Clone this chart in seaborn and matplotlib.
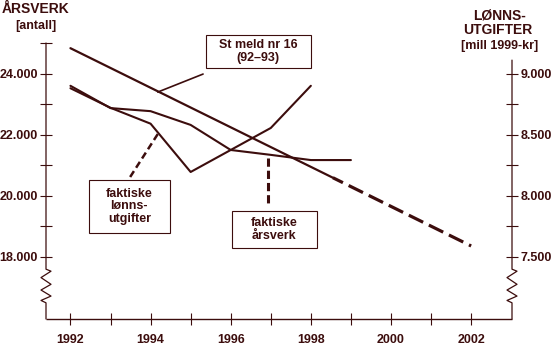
import numpy as np
import pandas as pd
import matplotlib
matplotlib.use("Agg")
import matplotlib.pyplot as plt
import matplotlib.transforms as mtransforms
from matplotlib.patches import Rectangle
import seaborn as sns

# ---------------- data ----------------
years_arsverk = [1992, 1993, 1994, 1995, 1996, 1997, 1998, 1999]
arsverk = [23600, 22870, 22770, 22320, 21500, 21340, 21170, 21170]

years_lonn = [1992, 1993, 1994, 1995, 1996, 1997, 1998]
lonn = [8880, 8720, 8590, 8195, 8375, 8555, 8900]

stmeld_years = [1992, 2002]
stmeld = [24830, 18360]
stmeld_solid_until = 1998.55

x_ticks = [1992, 1994, 1996, 1998, 2000, 2002]
x_minor = [1993, 1995, 1997, 1999, 2001]
left_ticks = [18000, 20000, 22000, 24000]
left_labels = ["18.000", "20.000", "22.000", "24.000"]
left_minor = [19000, 21000, 23000, 25000]
right_ticks = [7500, 8000, 8500, 9000]
right_labels = ["7.500", "8.000", "8.500", "9.000"]
right_minor = [7750, 8250, 8750]

C = "#3c0d0d"

sns.set_theme(style="white")
plt.rcParams["font.family"] = ["Liberation Sans", "DejaVu Sans"]
plt.rcParams["font.weight"] = "bold"

W, H = 551, 347
fig = plt.figure(figsize=(W / 100, H / 100), dpi=100)
fig.patch.set_facecolor("white")
ax = fig.add_axes([46 / W, 28 / H, 466 / W, 276 / H])
ax.set_facecolor("white")

ylim_left = (15970, 25000)
xlim = (1991.39, 2003.02)
ax.set_xlim(*xlim)
ax.set_ylim(*ylim_left)

ax2 = ax.twinx()
ax2.set_ylim(3000 + ylim_left[0] / 4, 3000 + ylim_left[1] / 4)
ax2.set_xlim(*xlim)

# ---------------- lines ----------------
df_a = pd.DataFrame({"year": years_arsverk, "val": arsverk})
df_l = pd.DataFrame({"year": years_lonn, "val": lonn})
sns.lineplot(data=df_a, x="year", y="val", ax=ax, color=C, lw=1.5, legend=False)
sns.lineplot(data=df_l, x="year", y="val", ax=ax2, color=C, lw=1.5, legend=False)

y_split = float(np.interp(stmeld_solid_until, stmeld_years, stmeld))
df_s1 = pd.DataFrame({"year": [stmeld_years[0], stmeld_solid_until], "val": [stmeld[0], y_split]})
df_s2 = pd.DataFrame({"year": [stmeld_solid_until, stmeld_years[1]], "val": [y_split, stmeld[1]]})
sns.lineplot(data=df_s1, x="year", y="val", ax=ax, color=C, lw=1.6, legend=False)
sns.lineplot(data=df_s2, x="year", y="val", ax=ax, color=C, lw=2.3, legend=False)
ax.lines[-1].set_linestyle((1.5, (5, 2)))
ax.set_xlabel("")
ax.set_ylabel("")
ax2.set_ylabel("")
ax2.set_xlabel("")

# ---------------- spines ----------------
for a in (ax, ax2):
    for s in a.spines.values():
        s.set_visible(False)

ax.plot([0, 1], [ylim_left[0]] * 2, transform=mtransforms.blended_transform_factory(ax.transAxes, ax.transData),
        color=C, lw=1.0, clip_on=False, solid_capstyle="butt")

brk_hi, brk_lo = 17600, 16500
px = 1 / 466
zz_t = [0, 0.06, 0.25, 0.45, 0.62, 0.8, 0.93, 1.0]
zz_o = [0, 5, -5, 5, -5, 5, -5, 0]


def draw_spine(xa, top):
    tr = mtransforms.blended_transform_factory(ax.transAxes, ax.transData)
    ys = [top, brk_hi] + [brk_hi - t * (brk_hi - brk_lo) for t in zz_t] + [brk_lo, ylim_left[0]]
    xs = [xa, xa] + [xa + o * px for o in zz_o] + [xa, xa]
    ax.plot(xs, ys, transform=tr, color=C, lw=0.9, clip_on=False)


draw_spine(0.0, 25000)
draw_spine(1.0, (9110 - 3000) * 4)

# ---------------- ticks ----------------
ax.set_xticks(x_ticks)
ax.set_xticklabels([str(x) for x in x_ticks])
ax.set_xticks(x_minor, minor=True)
ax.set_yticks(left_ticks)
ax.set_yticklabels(left_labels)
ax.set_yticks(left_minor, minor=True)
ax2.set_yticks(right_ticks)
ax2.set_yticklabels(right_labels)
ax2.set_yticks(right_minor, minor=True)
ax2.tick_params(axis="x", which="both", bottom=False, top=False, labelbottom=False)

ax.tick_params(axis="both", which="both", direction="inout", length=8, width=0.8, color=C,
               labelcolor=C, labelsize=9)
ax.tick_params(axis="x", which="major", pad=7)
ax.tick_params(axis="y", which="both", left=True, right=False, pad=2)
ax.tick_params(axis="x", which="both", bottom=True, top=False)
ax2.tick_params(axis="y", which="both", direction="inout", length=8, width=0.8, color=C,
                labelcolor=C, labelsize=9, right=True, left=False, pad=2)
for lab in ax.get_xticklabels() + ax.get_yticklabels() + ax2.get_yticklabels():
    lab.set_fontweight("bold")

# ---------------- annotations ----------------
box_kw = dict(facecolor="white", edgecolor=C, lw=0.8, clip_on=False, zorder=5)
txt_kw = dict(ha="center", va="center", color=C, fontsize=9, fontweight="bold",
              linespacing=1.1, zorder=6, clip_on=False)

# St meld nr 16
ax.add_patch(Rectangle((1995.38, 24180), 2.62, 1079, **box_kw))
ax.text(1996.69, 24719, "St meld nr 16\n(92\u201393)", **txt_kw)
ax.plot([1994.18, 1995.31], [23395, 23984], color=C, lw=1.2, clip_on=False)

# faktiske lønnsutgifter
ax.add_patch(Rectangle((1992.46, 18784), 2.02, 1733, **box_kw))
ax.text(1993.47, 19651, "faktiske\nlønns-\nutgifter", **txt_kw)
ax.plot([1993.49, 1994.18], [20616, 22022], color=C, lw=1.8, ls=(0, (2.8, 1.6)), clip_on=False)

# faktiske årsverk
ax.add_patch(Rectangle((1996.03, 18294), 2.12, 1210, **box_kw))
ax.text(1997.09, 18899, "faktiske\nårsverk", **txt_kw)
ax.plot([1996.93, 1996.93], [21237, 19765], color=C, lw=2.2, ls=(0, (2.7, 1.3)), clip_on=False)

# axis titles
fig.text(36 / W, 1 - 9 / H, "ÅRSVERK", ha="center", va="center", color=C, fontsize=10, fontweight="bold")
fig.text(36 / W, 1 - 26 / H, "[antall]", ha="center", va="center", color=C, fontsize=9, fontweight="bold")
fig.text(500 / W, 1 - 15 / H, "LØNNS-", ha="center", va="center", color=C, fontsize=10, fontweight="bold")
fig.text(498 / W, 1 - 30 / H, "UTGIFTER", ha="center", va="center", color=C, fontsize=10, fontweight="bold")
fig.text(500 / W, 1 - 46 / H, "[mill 1999-kr]", ha="center", va="center", color=C, fontsize=9, fontweight="bold")

fig.savefig("out.png", dpi=100, facecolor="white")
